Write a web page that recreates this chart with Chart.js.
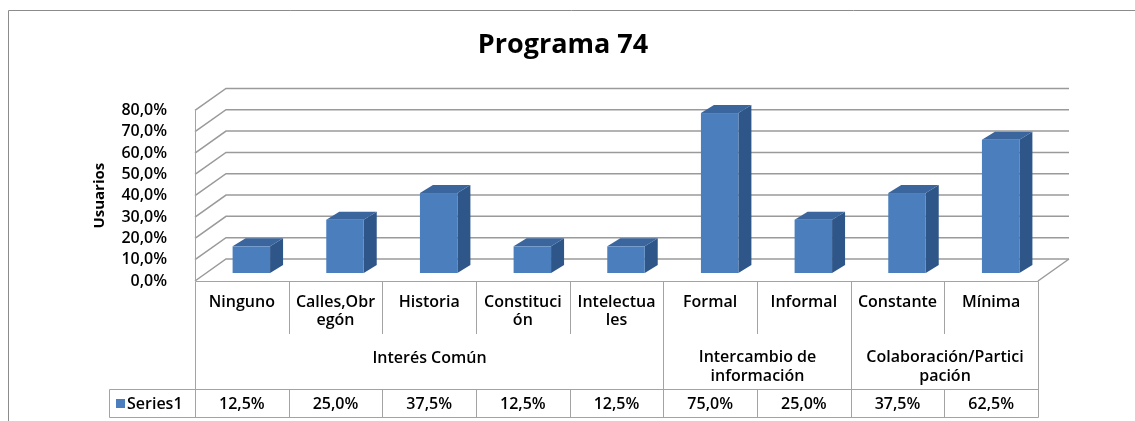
<!DOCTYPE html>
<html><head><meta charset="utf-8">
<script src="https://cdn.jsdelivr.net/npm/chart.js@4.4.1/dist/chart.umd.min.js"></script>
<style>html,body{margin:0;padding:0;background:#fff;overflow:hidden}canvas{display:block}</style>
</head><body>
<canvas id="c" width="1135" height="421"></canvas>
<script>
// ---- data ----
const chartTitle = "Programa 74";
const axisTitle = "Usuarios";
const seriesName = "Series1";
const categories = [["Ninguno"], ["Calles,Obr", "egón"], ["Historia"], ["Constituci", "ón"], ["Intelectua", "les"], ["Formal"], ["Informal"], ["Constante"], ["Mínima"]];
const values = [12.5, 25.0, 37.5, 12.5, 12.5, 75.0, 25.0, 37.5, 62.5];
const groupLabels = [["Interés Común"], ["Intercambio de", "información"], ["Colaboración/Partici", "pación"]];
const groupSizes = [5, 2, 2];
const yMin = 0, yMax = 80, yStep = 10;
const fmt = v => v.toFixed(1).replace('.', ',') + '%';

// ---- style ----
const FONT = "'Open Sans', 'DejaVu Sans', sans-serif";
const DX = 31, DY = 22;      // depth of the 3D walls
const SX = 9.5, SY = 8;      // bar position inside depth
const BD1 = 13, BD2 = 8;     // bar depth
const GRID = '#9a9a9a', TABLE = '#a3a3a3';
const FRONT = '#4a7ebd', SIDE = '#2f5688', TOP = '#3a659d';

const plugin3d = {
  id: 'plugin3d',
  beforeDraw(chart) {
    const ctx = chart.ctx;
    ctx.save();
    ctx.fillStyle = '#fff';
    ctx.fillRect(0, 0, chart.width, chart.height);
    ctx.strokeStyle = '#8c8c8c';
    ctx.lineWidth = 1;
    ctx.beginPath();
    ctx.moveTo(8.5, chart.height);
    ctx.lineTo(8.5, 10.5);
    ctx.lineTo(chart.width, 10.5);
    ctx.stroke();
    ctx.restore();
  },
  beforeDatasetsDraw(chart) {
    const ctx = chart.ctx, ys = chart.scales.y, a = chart.chartArea;
    ctx.save();
    ctx.strokeStyle = GRID;
    ctx.lineWidth = 1.5;
    ys.ticks.forEach(t => {
      const y = ys.getPixelForValue(t.value);
      ctx.beginPath();
      ctx.moveTo(a.left, y);
      ctx.lineTo(a.left + DX, y - DY);
      ctx.lineTo(a.right + DX, y - DY);
      ctx.stroke();
    });
    const y0 = ys.getPixelForValue(yMin);
    ctx.beginPath();
    ctx.moveTo(a.right, y0);
    ctx.lineTo(a.right + DX, y0 - DY);
    ctx.stroke();
    ctx.lineWidth = 1;
    ctx.strokeStyle = TABLE;
    ctx.beginPath();
    ctx.moveTo(a.left + 0.5, ys.getPixelForValue(yMax));
    ctx.lineTo(a.left + 0.5, y0);
    ctx.stroke();
    ctx.restore();
  },
  afterDatasetsDraw(chart) {
    const ctx = chart.ctx;
    const meta = chart.getDatasetMeta(0);
    ctx.save();
    meta.data.forEach(el => {
      const p = el.getProps(['x', 'y', 'base', 'width'], true);
      const l = p.x - p.width / 2 + SX, r = p.x + p.width / 2 + SX;
      const t = p.y - SY, b = p.base - SY;
      ctx.fillStyle = SIDE;
      ctx.beginPath();
      ctx.moveTo(r, t); ctx.lineTo(r + BD1, t - BD2); ctx.lineTo(r + BD1, b - BD2); ctx.lineTo(r, b);
      ctx.closePath(); ctx.fill();
      ctx.fillStyle = TOP;
      ctx.beginPath();
      ctx.moveTo(l, t); ctx.lineTo(l + BD1, t - BD2); ctx.lineTo(r + BD1, t - BD2); ctx.lineTo(r, t);
      ctx.closePath(); ctx.fill();
      ctx.fillStyle = FRONT;
      ctx.fillRect(l, t, r - l, b - t);
    });
    ctx.restore();
  },
  afterDraw(chart) {
    const ctx = chart.ctx, xs = chart.scales.x, ys = chart.scales.y;
    const n = categories.length;
    const half = (xs.getPixelForValue(1) - xs.getPixelForValue(0)) / 2;
    const bx = i => Math.round(i < n ? xs.getPixelForValue(i) - half : xs.getPixelForValue(n - 1) + half) + 0.5;
    const top = Math.round(ys.getPixelForValue(yMin)) + 0.5;
    const catBottom = 334, rowTop = 389.5, rowBottom = 417.5, rowLeft = 109.5;
    ctx.save();
    ctx.strokeStyle = TABLE;
    ctx.lineWidth = 1;
    ctx.beginPath();
    ctx.moveTo(bx(0), top); ctx.lineTo(bx(n), top);
    ctx.moveTo(rowLeft, rowTop); ctx.lineTo(bx(n), rowTop);
    ctx.moveTo(rowLeft, rowBottom); ctx.lineTo(bx(n), rowBottom);
    ctx.moveTo(rowLeft, rowTop); ctx.lineTo(rowLeft, rowBottom);
    const gb = [0];
    groupSizes.forEach(s => gb.push(gb[gb.length - 1] + s));
    for (let i = 0; i <= n; i++) {
      const x = bx(i);
      if (gb.includes(i)) { ctx.moveTo(x, top); ctx.lineTo(x, rowBottom); }
      else { ctx.moveTo(x, top); ctx.lineTo(x, catBottom); ctx.moveTo(x, rowTop); ctx.lineTo(x, rowBottom); }
    }
    ctx.stroke();

    ctx.fillStyle = '#000';
    ctx.textAlign = 'center';
    ctx.textBaseline = 'middle';
    ctx.font = '600 16px ' + FONT;
    categories.forEach((lines, i) => {
      const x = xs.getPixelForValue(i);
      lines.forEach((s, k) => ctx.fillText(s, x, 302 + k * 18));
      ctx.fillText(fmt(values[i]), x, 404);
    });
    groupLabels.forEach((lines, g) => {
      const x = (bx(gb[g]) + bx(gb[g + 1])) / 2;
      const y0 = lines.length === 1 ? 358 : 357;
      lines.forEach((s, k) => ctx.fillText(s, x, y0 + k * 19));
    });
    ctx.fillStyle = FRONT;
    ctx.fillRect(116, 399, 9, 9);
    ctx.fillStyle = '#000';
    ctx.textAlign = 'left';
    ctx.fillText(seriesName, 127, 404);
    ctx.restore();
  }
};

new Chart(document.getElementById('c'), {
  type: 'bar',
  data: {
    labels: categories,
    datasets: [{
      label: seriesName,
      data: values,
      backgroundColor: 'rgba(0,0,0,0)',
      borderWidth: 0,
      categoryPercentage: 1.0,
      barPercentage: 0.4
    }]
  },
  options: {
    responsive: false,
    animation: false,
    devicePixelRatio: 1,
    layout: { padding: { left: 88, right: 97, top: 0, bottom: 140 } },
    plugins: {
      legend: { display: false },
      tooltip: { enabled: false },
      title: {
        display: true,
        text: chartTitle,
        color: '#000',
        font: { family: FONT, size: 27, weight: 'bold' },
        padding: { top: 29, bottom: 49 }
      }
    },
    scales: {
      x: { display: false, offset: true },
      y: {
        min: yMin, max: yMax,
        ticks: { stepSize: yStep, autoSkip: false, callback: v => fmt(v), color: '#000', padding: 20, font: { family: FONT, size: 16, weight: '600' } },
        grid: { display: false },
        border: { display: false },
        title: { display: true, text: axisTitle, color: '#000', padding: { top: 3, bottom: 0 }, font: { family: FONT, size: 15, weight: 'bold' } },
        afterFit: s => { s.width = 107; }
      }
    }
  },
  plugins: [plugin3d]
});
</script>
</body></html>
